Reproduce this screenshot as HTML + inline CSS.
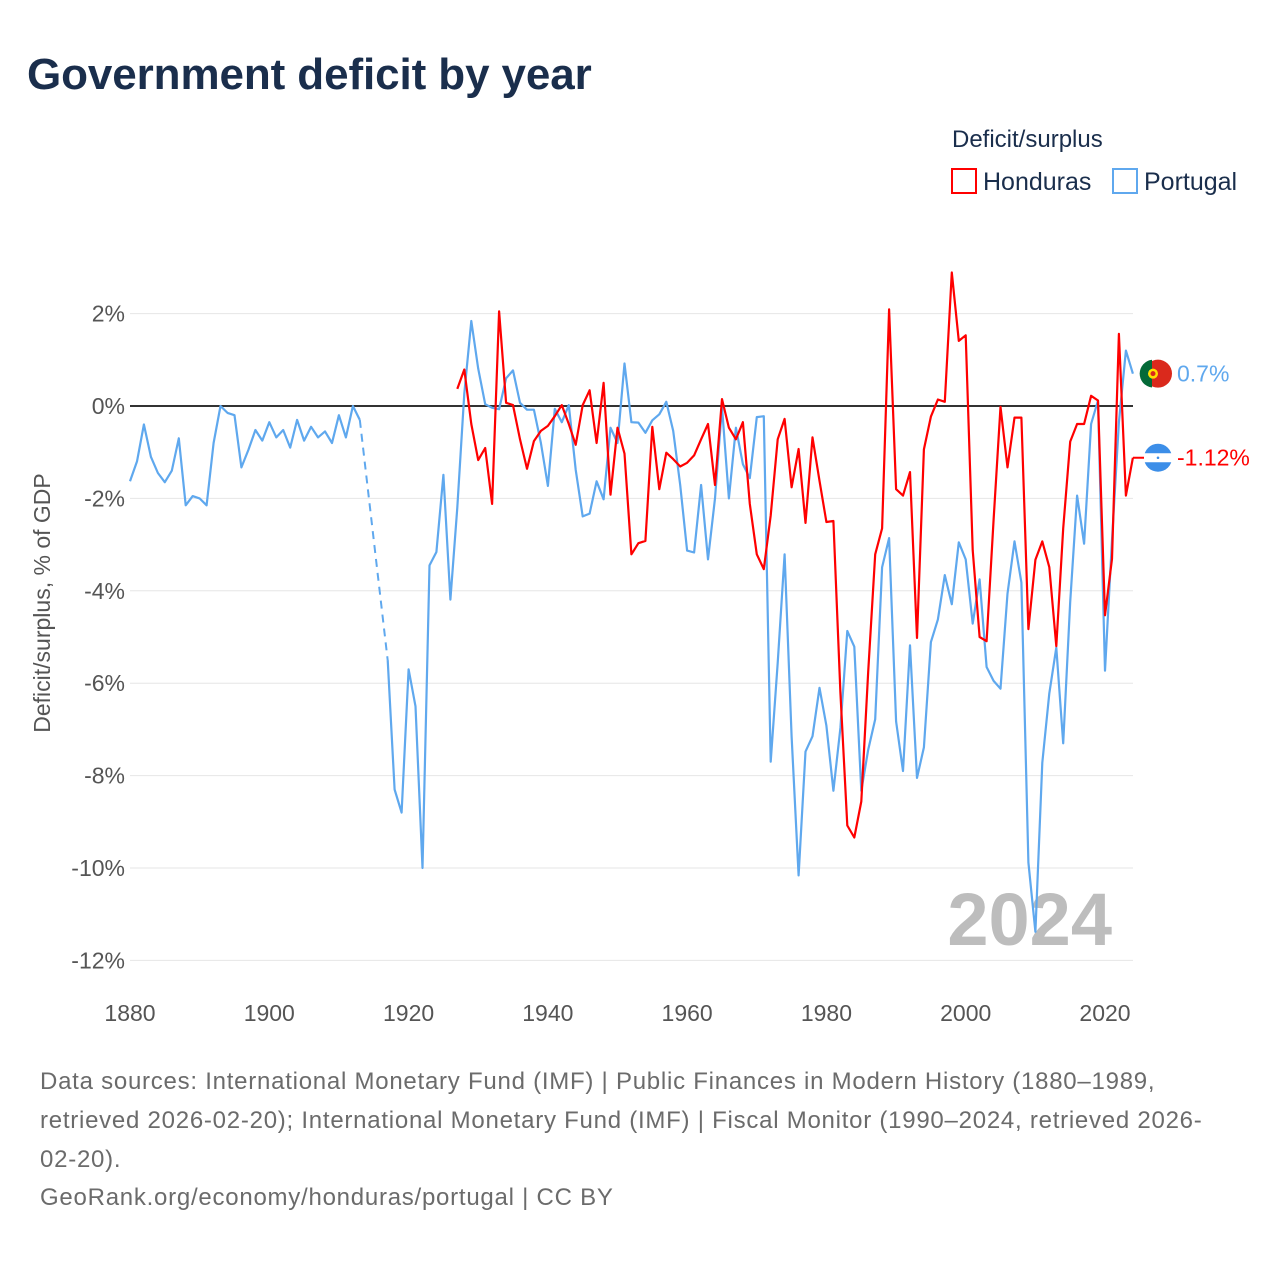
<!DOCTYPE html>
<html><head><meta charset="utf-8"><style>
body{margin:0;background:#fff;font-family:"Liberation Sans",sans-serif;}
#wrap{position:relative;width:1280px;height:1280px;overflow:hidden;}
h1{position:absolute;left:27px;top:50px;margin:0;font-size:44px;font-weight:bold;color:#1a2e4c;letter-spacing:-0.1px;}
.src{position:absolute;left:40px;font-size:24px;color:#6b6b6b;white-space:nowrap;letter-spacing:0.75px;}
</style></head><body>
<div id="wrap">
<h1>Government deficit by year</h1>
<svg id="chart" width="1280" height="1280" style="position:absolute;left:0;top:0"></svg>
<div class="src" style="top:1068px">Data sources: International Monetary Fund (IMF) | Public Finances in Modern History (1880–1989,</div>
<div class="src" style="top:1107px">retrieved 2026-02-20); International Monetary Fund (IMF) | Fiscal Monitor (1990–2024, retrieved 2026-</div>
<div class="src" style="top:1146px">02-20).</div>
<div class="src" style="top:1184px">GeoRank.org/economy/honduras/portugal | CC BY</div>
</div>
<script>
const yTicks=[2,0,-2,-4,-6,-8,-10,-12];
const xTicks=[1880,1900,1920,1940,1960,1980,2000,2020];
const portugalStart=1880;
const portugalValues=[-1.63,-1.2,-0.4,-1.1,-1.45,-1.65,-1.4,-0.7,-2.15,-1.95,-2.0,-2.15,-0.8,0,-0.15,-0.2,-1.33,-0.95,-0.52,-0.75,-0.35,-0.68,-0.52,-0.9,-0.3,-0.75,-0.45,-0.68,-0.55,-0.8,-0.2,-0.68,0,-0.3,null,null,null,-5.5,-8.3,-8.8,-5.7,-6.5,-10,-3.45,-3.16,-1.49,-4.19,-2.2,0.27,1.84,0.81,0.04,-0.04,-0.07,0.6,0.77,0.07,-0.08,-0.08,-0.8,-1.73,-0.06,-0.35,0.02,-1.38,-2.39,-2.33,-1.63,-2.02,-0.47,-0.8,0.92,-0.35,-0.36,-0.58,-0.31,-0.18,0.09,-0.54,-1.71,-3.13,-3.17,-1.71,-3.32,-2.0,-0.02,-2.0,-0.47,-1.26,-1.56,-0.24,-0.22,-7.7,-5.56,-3.21,-7.15,-10.16,-7.48,-7.15,-6.1,-6.92,-8.33,-6.97,-4.87,-5.21,-8.33,-7.44,-6.78,-3.49,-2.86,-6.83,-7.9,-5.18,-8.05,-7.39,-5.11,-4.62,-3.66,-4.29,-2.95,-3.32,-4.71,-3.75,-5.65,-5.95,-6.12,-4.06,-2.93,-3.82,-9.88,-11.38,-7.72,-6.22,-5.23,-7.3,-4.24,-1.94,-2.98,-0.39,0.12,-5.73,-2.9,-0.35,1.2,0.7];
const hondurasStart=1927;
const hondurasValues=[0.37,0.79,-0.39,-1.17,-0.91,-2.12,2.05,0.07,0.02,-0.72,-1.36,-0.76,-0.54,-0.43,-0.22,0.02,-0.39,-0.84,0.02,0.34,-0.8,0.5,-1.92,-0.47,-1.03,-3.21,-2.97,-2.92,-0.45,-1.8,-1.01,-1.15,-1.31,-1.23,-1.07,-0.72,-0.39,-1.71,0.15,-0.47,-0.72,-0.35,-2.12,-3.21,-3.53,-2.37,-0.72,-0.28,-1.76,-0.93,-2.53,-0.68,-1.62,-2.51,-2.49,-6.2,-9.08,-9.34,-8.56,-5.75,-3.21,-2.65,2.09,-1.8,-1.94,-1.43,-5.02,-0.94,-0.23,0.14,0.09,2.89,1.41,1.53,-3.12,-5.0,-5.09,-2.46,-0.02,-1.33,-0.25,-0.25,-4.83,-3.33,-2.93,-3.49,-5.2,-2.65,-0.77,-0.39,-0.39,0.22,0.12,-4.53,-3.31,1.56,-1.94,-1.12];
const NS='http://www.w3.org/2000/svg';
const svg=document.getElementById('chart');
const X=y=>130+(y-1880)*(975/140);
const Y=v=>406-v*46.2;
function mk(t,a,p){const e=document.createElementNS(NS,t);for(const k in a)e.setAttribute(k,a[k]);(p||svg).appendChild(e);return e;}
yTicks.forEach(v=>{
 const g=mk('line',{x1:130,x2:1133,y1:Y(v),y2:Y(v),stroke:v===0?'#333':'#e6e6e6','stroke-width':v===0?2:1});
 
 
 const t=mk('text',{x:125,y:Y(v)+8,'text-anchor':'end','font-size':23,fill:'#555','font-family':'Liberation Sans,sans-serif'});
 t.textContent=v+'%';
 
 
});
xTicks.forEach(y=>{
 const t=mk('text',{x:X(y),y:1021,'text-anchor':'middle','font-size':23,fill:'#555','font-family':'Liberation Sans,sans-serif'});
 t.textContent=y;
 
 
});
const yt=mk('text',{transform:'translate(50,603) rotate(-90)','text-anchor':'middle','font-size':23,fill:'#555','font-family':'Liberation Sans,sans-serif'});
yt.textContent='Deficit/surplus, % of GDP';


const big=mk('text',{x:1112,y:945,'text-anchor':'end','font-size':74,'font-weight':'bold',fill:'#bdbdbd','font-family':'Liberation Sans,sans-serif'});
big.textContent='2024';


function drawSeries(start,vals,color,name){
 let segs=[],cur=[],prev=null;
 vals.forEach((v,i)=>{const yr=start+i;
  if(v===null){if(cur.length)segs.push(cur);cur=[];return;}
  if(cur.length===0&&prev){const d=mk('path',{d:`M${X(prev[0])},${Y(prev[1])}L${X(yr)},${Y(v)}`,stroke:color,'stroke-width':2,fill:'none','stroke-dasharray':'8,6'});
   
   }
  cur.push([yr,v]);prev=[yr,v];});
 if(cur.length)segs.push(cur);
 segs.forEach(s=>{const p=mk('path',{d:s.map((q,i)=>(i?'L':'M')+X(q[0]).toFixed(1)+','+Y(q[1]).toFixed(1)).join(''),stroke:color,'stroke-width':2.2,fill:'none','stroke-linejoin':'round'});
  
  });
}
drawSeries(portugalStart,portugalValues,'#5fa8ee','portugal');
drawSeries(hondurasStart,hondurasValues,'#ff0000','honduras');
const pl=portugalValues[portugalValues.length-1],hl=hondurasValues[hondurasValues.length-1];
const pg=mk('g',{});


mk('circle',{cx:1158,cy:Y(pl),r:14,fill:'#da291c'},pg);
mk('path',{d:`M1152,${Y(pl)-13.9}A14,14 0 0 0 1152,${Y(pl)+13.9}Z`,fill:'#046a38'},pg);
mk('path',{d:`M1144,${Y(pl)}A14,14 0 0 1 1152,${Y(pl)-12.6}L1152,${Y(pl)+12.6}A14,14 0 0 1 1144,${Y(pl)}`,fill:'#046a38'},pg);
mk('circle',{cx:1153,cy:Y(pl),r:5,fill:'#ffe000'},pg);
mk('circle',{cx:1153,cy:Y(pl),r:2.5,fill:'#da291c'},pg);
const pt=mk('text',{x:1177,y:Y(pl)+8,'font-size':23,fill:'#5fa8ee','font-family':'Liberation Sans,sans-serif'});
pt.textContent=pl+'%';


const hg=mk('g',{});


const hy=Y(hl);
mk('line',{x1:1133,x2:1144,y1:hy,y2:hy,stroke:'#ff0000','stroke-width':2},hg);
mk('circle',{cx:1158,cy:hy,r:14,fill:'#3c8ee8'},hg);
mk('rect',{x:1144,y:hy-4.5,width:28,height:9,fill:'#fff'},hg);
mk('circle',{cx:1158,cy:hy,r:1.3,fill:'#3c8ee8'},hg);
const ht=mk('text',{x:1177,y:hy+8,'font-size':23,fill:'#ff0000','font-family':'Liberation Sans,sans-serif'});
ht.textContent=hl+'%';


const lt=mk('text',{x:952,y:147,'font-size':24,fill:'#1a2e4c','font-family':'Liberation Sans,sans-serif'});
lt.textContent='Deficit/surplus';


[[952,'#ff0000','Honduras'],[1113,'#5fa8ee','Portugal']].forEach(([x,c,n])=>{
 const g=mk('g',{});
 
 
 mk('rect',{x:x,y:169,width:24,height:24,fill:'none',stroke:c,'stroke-width':2},g);
 const t=mk('text',{x:x+31,y:190,'font-size':25,fill:'#1a2e4c','font-family':'Liberation Sans,sans-serif'},g);
 t.textContent=n;
});
</script>
</body></html>
